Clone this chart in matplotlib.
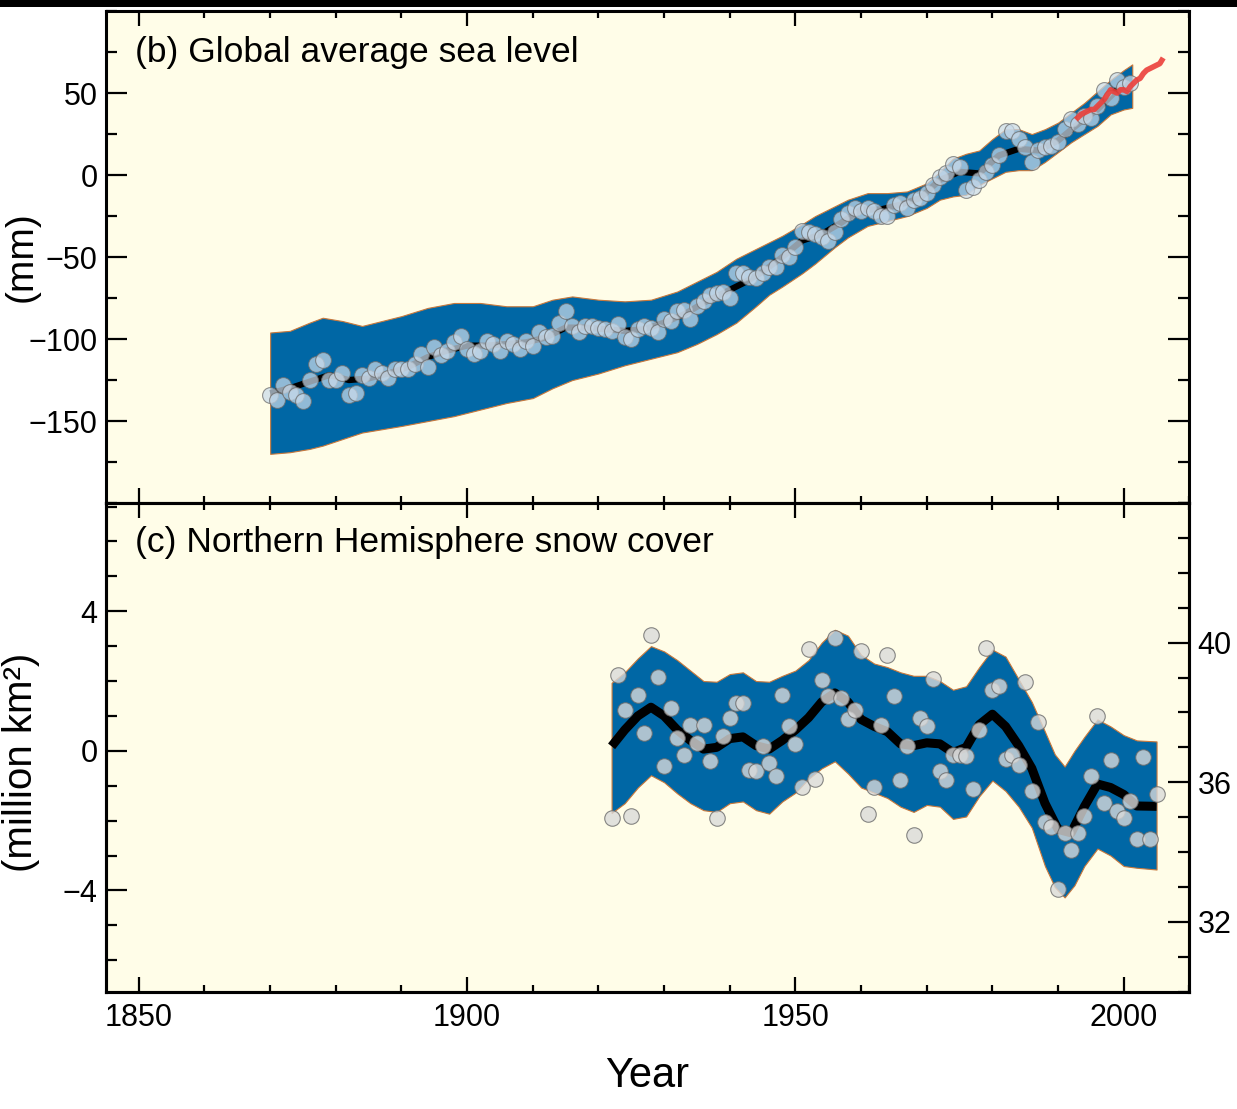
import numpy as np
import matplotlib.pyplot as plt
from matplotlib.ticker import MultipleLocator, FixedLocator
from matplotlib.patches import Rectangle

plt.rcParams['font.family'] = ['Liberation Sans', 'DejaVu Sans']

# ---- (b) global average sea level (mm) ----
sea_years = list(range(1870, 2002))
sea_level = [
    -134, -137, -128, -132, -134, -138, -125, -115, -113, -125,
    -125, -121, -134, -133, -122, -124, -118, -121, -124, -118,
    -118, -118, -115, -109, -117, -105, -110, -107, -102, -98,
    -106, -109, -107, -101, -103, -107, -101, -103, -106, -101,
    -104, -96, -99, -98, -90, -83, -92, -96, -92, -92,
    -93, -94, -95, -91, -99, -100, -94, -92, -93, -96,
    -88, -89, -83, -82, -88, -80, -77, -73, -72, -71,
    -75, -60, -60, -62, -63, -60, -56, -56, -49, -50,
    -44, -34, -35, -36, -38, -40, -35, -27, -23, -20,
    -22, -20, -22, -25, -25, -18, -17, -20, -15, -14,
    -11, -6, -1, 1, 7, 5, -9, -7, -3, 2,
    6, 12, 27, 27, 22, 17, 8, 15, 17, 18,
    20, 28, 34, 31, 36, 35, 42, 52, 47, 58,
    54, 56,
]

sea_smooth_years = [1870, 1873, 1876, 1879, 1882, 1885, 1888, 1891, 1894, 1897,
                    1900, 1903, 1906, 1909, 1912, 1915, 1918, 1921, 1924, 1927,
                    1930, 1933, 1936, 1939, 1942, 1945, 1948, 1951, 1954, 1957,
                    1960, 1963, 1966, 1969, 1972, 1975, 1978, 1981, 1984, 1987,
                    1990, 1993, 1996, 1999, 2001]
sea_smooth = [-133, -130, -126, -122, -125, -124, -121, -117, -111, -107,
              -104, -104, -103, -102, -99, -93, -93, -94, -95, -94,
              -90, -85, -78, -72, -66, -59, -50, -40, -36, -29,
              -21, -21, -18, -14, -3, 2, 1, 12, 16, 15,
              21, 31, 40, 52, 56]

sea_band_years = [1870, 1873, 1876, 1878, 1881, 1884, 1887, 1890, 1894, 1898,
                  1902, 1906, 1910, 1913, 1916, 1920, 1924, 1928, 1932, 1935,
                  1938, 1941, 1944, 1946, 1948, 1951, 1953, 1956, 1958, 1961,
                  1964, 1967, 1970, 1972, 1974, 1976, 1978, 1980, 1982, 1984,
                  1986, 1988, 1990, 1992, 1994, 1996, 1998, 2000, 2001.3]
sea_band_high = [-96, -95, -90, -87, -89, -92, -89, -86, -81, -78,
                 -78, -80, -80, -76, -74, -76, -77, -76, -71, -65,
                 -59, -51, -45, -41, -37, -30, -25, -19, -15, -11,
                 -11, -10, -5, 2, 10, 13, 15, 22, 28, 28,
                 25, 28, 32, 38, 44, 51, 58, 64, 67.5]
sea_band_low = [-170, -169, -167, -165, -161, -157, -155, -153, -150, -147,
                -143, -139, -136, -130, -125, -121, -116, -112, -108, -103,
                -97, -90, -80, -73, -68, -60, -54, -44, -38, -31,
                -28, -25, -20, -15, -13, -12, -6, -2, 2, 3,
                3, 8, 14, 20, 25, 30, 37, 40, 41]

alt_years = [1993.0, 1993.5, 1994.0, 1994.5, 1995.0, 1995.5, 1996.0, 1996.5, 1997.0,
             1997.5, 1998.0, 1998.5, 1999.0, 1999.5, 2000.0, 2000.5, 2001.0, 2001.5,
             2002.0, 2002.5, 2003.0, 2003.5, 2004.0, 2004.5, 2005.0, 2005.5, 2005.8]
alt_level = [35, 37, 38, 39, 40, 40, 42, 44, 46, 49, 52, 51, 50, 52, 52, 51, 54, 56,
             58, 59, 62, 64, 65, 66, 67, 68, 70]

# ---- (c) NH snow cover anomaly (million km2) ----
snow_years = list(range(1922, 2006))
snow_cover = [
    -1.92, 2.18, 1.18, -1.86, 1.61, 0.51, 3.33, 2.13, -0.44, 1.23,
    0.37, -0.11, 0.75, 0.23, 0.75, -0.30, -1.92, 0.42, 0.94, 1.37,
    1.37, -0.54, -0.59, 0.15, -0.35, -0.73, 1.61, 0.70, 0.21, -1.03,
    2.92, -0.81, 2.02, 1.58, 3.23, 1.52, 0.91, 1.18, 2.85, -1.80,
    -1.03, 0.75, 2.76, 1.56, -0.83, 0.13, -2.40, 0.94, 0.70, 2.06,
    -0.59, -0.83, -0.11, -0.11, -0.16, -1.09, 0.59, 2.95, 1.75, 1.85,
    -0.23, -0.11, -0.40, 1.96, -1.16, 0.82, -2.05, -2.18, -3.96, -2.35,
    -2.83, -2.35, -1.88, -0.73, 1.01, -1.49, -0.25, -1.73, -1.92, -1.45,
    -2.54, -0.17, -2.54, -1.23,
]

snow_smooth_years = [1922, 1924, 1926, 1928, 1930, 1932, 1934, 1936, 1938, 1940,
                     1942, 1944, 1946, 1948, 1950, 1952, 1954, 1956, 1958, 1960,
                     1962, 1964, 1966, 1968, 1970, 1972, 1974, 1976, 1978, 1980,
                     1982, 1984, 1986, 1988, 1990, 1992, 1994, 1996, 1998, 2000,
                     2002, 2005]
snow_smooth = [0.13, 0.6, 1.0, 1.25, 1.0, 0.6, 0.3, 0.05, 0.1, 0.35,
               0.4, 0.15, 0.05, 0.3, 0.6, 0.95, 1.4, 1.66, 1.4, 0.9,
               0.7, 0.55, 0.2, 0.15, 0.23, 0.2, -0.05, 0.1, 0.75, 1.05,
               0.7, 0.15, -0.5, -1.5, -2.25, -2.35, -1.6, -0.95, -1.05, -1.25,
               -1.58, -1.59]

snow_band_years = [1922, 1924, 1926, 1928, 1930, 1932, 1934, 1936, 1938, 1940,
                   1942, 1944, 1946, 1948, 1950, 1952, 1954, 1956, 1958, 1960,
                   1962, 1964, 1966, 1968, 1970, 1972, 1974, 1976, 1978, 1980,
                   1982, 1984, 1986, 1988, 1989.5, 1991, 1992.5, 1994, 1996, 1998,
                   2000, 2002, 2005]
snow_band_high = [1.95, 2.25, 2.65, 3.0, 2.85, 2.6, 2.3, 2.0, 1.98, 2.2,
                  2.25, 2.0, 1.98, 2.15, 2.3, 2.6, 3.1, 3.47, 3.3, 2.75,
                  2.5, 2.4, 2.25, 2.15, 2.15, 2.0, 1.75, 1.85, 2.4, 2.9,
                  2.7, 2.05, 1.4, 0.55, -0.1, -0.45, 0.0, 0.4, 0.9, 0.7,
                  0.45, 0.3, 0.27]
snow_band_low = [-1.78, -1.5, -1.05, -0.7, -0.9, -1.22, -1.5, -1.7, -1.75, -1.5,
                 -1.45, -1.7, -1.8, -1.45, -1.2, -0.8, -0.5, -0.3, -0.65, -1.05,
                 -1.2, -1.35, -1.6, -1.75, -1.55, -1.6, -1.95, -1.88, -1.3, -0.85,
                 -1.15, -1.6, -2.2, -3.3, -3.9, -4.2, -3.85, -3.3, -2.8, -3.0,
                 -3.3, -3.35, -3.4]

bg = '#fffde8'
band_blue = '#0067a5'
band_edge = '#c8783c'
dot_edge = '#6a6a6a'

fig = plt.figure(figsize=(12.37, 11.09), dpi=100)
fig.patches.append(Rectangle((0, 1 - 7 / 1109), 1, 7 / 1109, transform=fig.transFigure,
                             facecolor='black', edgecolor='none', zorder=10))

ax1 = fig.add_axes([0.0857, 0.5464, 0.8758, 0.4436])
ax2 = fig.add_axes([0.0857, 0.1058, 0.8758, 0.4406])


def style(ax):
    ax.set_facecolor(bg)
    for s in ax.spines.values():
        s.set_linewidth(2.2)
    ax.tick_params(which='both', direction='in', width=1.6, labelsize=22)
    ax.tick_params(axis='y', which='major', length=15, pad=6)
    ax.tick_params(axis='y', which='minor', length=8)
    ax.tick_params(axis='x', which='major', length=11, pad=8)
    ax.tick_params(axis='x', which='minor', length=5)
    ax.xaxis.set_major_locator(MultipleLocator(50))
    ax.xaxis.set_minor_locator(MultipleLocator(10))
    ax.set_xlim(1845, 2010)


# top panel
style(ax1)
ax1.fill_between(sea_band_years, sea_band_low, sea_band_high, facecolor=band_blue,
                 edgecolor=band_edge, linewidth=0.8, zorder=1)
ax1.plot(sea_smooth_years, sea_smooth, color='black', lw=4.5, zorder=2,
         solid_capstyle='butt')
ax1.scatter(sea_years, sea_level, s=130, facecolor='#cadbea', edgecolor=dot_edge,
            linewidths=0.8, alpha=0.72, zorder=3)
ax1.plot(alt_years, alt_level, color='#ec3f3a', lw=4, alpha=0.9, zorder=4)
ax1.set_ylim(-200, 100)
ax1.yaxis.set_major_locator(FixedLocator([-150, -100, -50, 0, 50]))
ax1.yaxis.set_minor_locator(MultipleLocator(25))
ax1.tick_params(which='both', top=True, right=True, labelbottom=False)
ax1.set_ylabel('(mm)', fontsize=28)
ax1.yaxis.set_label_coords(-0.061, 0.5)
ax1.text(0.027, 0.897, '(b) Global average sea level', transform=ax1.transAxes,
         fontsize=25.5, va='baseline')

# bottom panel
style(ax2)
ax2.fill_between(snow_band_years, snow_band_low, snow_band_high, facecolor=band_blue,
                 edgecolor=band_edge, linewidth=0.8, zorder=1)
ax2.plot(snow_smooth_years, snow_smooth, color='black', lw=6.5, zorder=2,
         solid_capstyle='butt')
ax2.scatter(snow_years, snow_cover, s=125, facecolor='#dadada', edgecolor=dot_edge,
            linewidths=0.8, alpha=0.8, zorder=3)
ax2.set_ylim(-6.9, 7.1)
ax2.yaxis.set_major_locator(FixedLocator([-4, 0, 4]))
ax2.yaxis.set_minor_locator(MultipleLocator(1))
ax2.set_ylabel('(million km²)', fontsize=29)
ax2.yaxis.set_label_coords(-0.061, 0.47)
ax2.set_xlabel('Year', fontsize=30, labelpad=17)
ax2.text(0.027, 0.900, '(c) Northern Hemisphere snow cover', transform=ax2.transAxes,
         fontsize=25.5, va='baseline')

tw = ax2.twinx()
tw.set_ylim(30, 44)
tw.yaxis.set_major_locator(FixedLocator([32, 36, 40]))
tw.yaxis.set_minor_locator(MultipleLocator(1))
for s in tw.spines.values():
    s.set_linewidth(2.2)
tw.tick_params(which='both', direction='in', width=1.6, labelsize=22)
tw.tick_params(which='major', length=15, pad=6)
tw.tick_params(which='minor', length=8)
ax2.tick_params(which='both', top=True, bottom=True, left=True, right=False)

fig.savefig('out.png', dpi=100, facecolor='white')
